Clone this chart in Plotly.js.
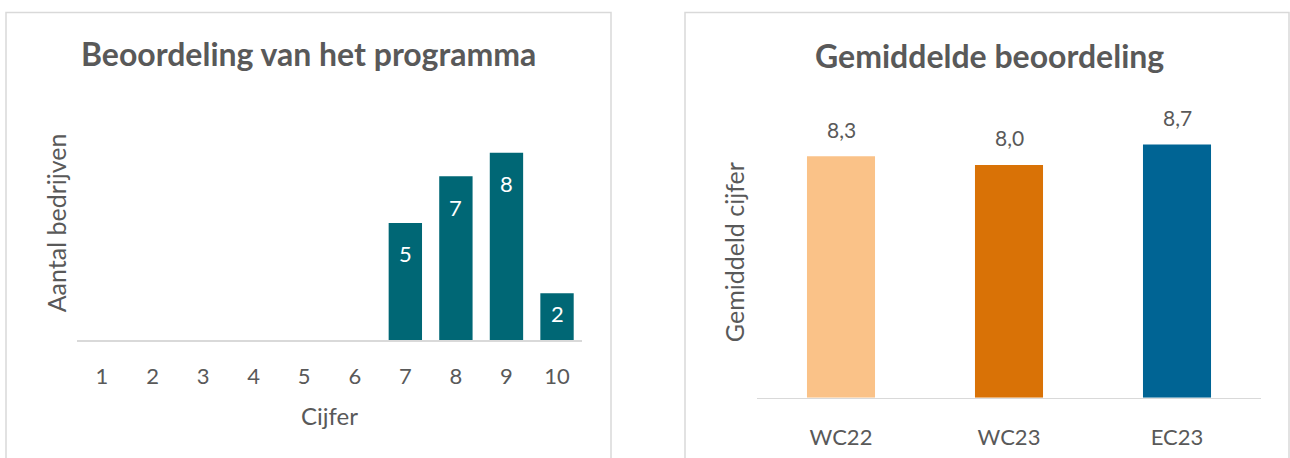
<!DOCTYPE html>
<html>
<head>
<meta charset="utf-8">
<script src="https://cdn.plot.ly/plotly-3.0.1.min.js"></script>
<style>
html,body{margin:0;padding:0;background:#fff;}
#chart{width:1290px;height:458px;}
</style>
</head>
<body>
<div id="chart"></div>
<script>
// ---- data ----
const gradeCategories = [1, 2, 3, 4, 5, 6, 7, 8, 9, 10];
const gradeCounts = [0, 0, 0, 0, 0, 0, 5, 7, 8, 2];
const edition = ["WC22", "WC23", "EC23"];
const averageScore = [8.3, 8.0, 8.7];
const averageLabels = ["8,3", "8,0", "8,7"];
const editionColors = ["#FAC288", "#D97206", "#006494"];
const leftTitle = "Beoordeling van het programma";
const rightTitle = "Gemiddelde beoordeling";
const leftYTitle = "Aantal bedrijven";
const leftXTitle = "Cijfer";
const rightYTitle = "Gemiddeld cijfer";

const W = 1290, H = 458;
const FONT = "Lato, 'Open Sans', sans-serif";
const TXT = "#595959";
const GRID = "#D9D9D9";
const px = v => v / W;
const py = v => (H - v) / H;

// geometry
const L = {x0: 76.7, x1: 582.3, base: 340, top: 105.9, ymax: 10};
const R = {x0: 757, x1: 1261, base: 397.7, top: 106.7, ymax: 10};
const leftUnit = (L.base - L.top) / L.ymax;

const traces = [
  {
    type: "bar", x: gradeCategories, y: gradeCounts, xaxis: "x", yaxis: "y",
    marker: {color: "#006775"}, width: 0.66, hoverinfo: "skip"
  },
  {
    type: "bar", x: edition, y: averageScore, xaxis: "x2", yaxis: "y2",
    marker: {color: editionColors}, width: 0.405, hoverinfo: "skip"
  }
];

const annotations = [];
// chart titles
annotations.push({xref: "paper", yref: "paper", x: px(308), y: py(53), xanchor: "center", yanchor: "middle",
  text: "<b>" + leftTitle + "</b>", showarrow: false, font: {family: FONT, size: 32, color: TXT}});
annotations.push({xref: "paper", yref: "paper", x: px(989), y: py(55), xanchor: "center", yanchor: "middle",
  text: "<b>" + rightTitle + "</b>", showarrow: false, font: {family: FONT, size: 32, color: TXT}});
// left data labels inside bars
gradeCounts.forEach((v, i) => {
  if (v > 0) {
    annotations.push({xref: "x", yref: "y", x: gradeCategories[i], y: v, yanchor: "middle",
      yshift: -Math.min(31, v * leftUnit * 0.43), text: String(v), showarrow: false,
      font: {family: FONT, size: 22, color: "#FFFFFF"}});
  }
});
// right data labels above bars
averageScore.forEach((v, i) => {
  annotations.push({xref: "x2", yref: "y2", x: edition[i], y: v, yanchor: "middle",
    yshift: 27, text: averageLabels[i], showarrow: false,
    font: {family: FONT, size: 21, color: TXT}});
});

const shapes = [
  {type: "rect", xref: "paper", yref: "paper", x0: px(6), x1: px(611), y0: py(470), y1: py(12.5),
    line: {color: GRID, width: 1.5}, fillcolor: "rgba(0,0,0,0)"},
  {type: "rect", xref: "paper", yref: "paper", x0: px(685), x1: px(1289), y0: py(470), y1: py(12.5),
    line: {color: GRID, width: 1.5}, fillcolor: "rgba(0,0,0,0)"}
];

const layout = {
  width: W, height: H,
  margin: {l: 0, r: 0, t: 0, b: 0},
  paper_bgcolor: "#FFFFFF", plot_bgcolor: "rgba(0,0,0,0)",
  showlegend: false,
  font: {family: FONT, color: TXT, size: 20},
  xaxis: {
    domain: [px(L.x0), px(L.x1)], range: [0.5, 10.5], tickmode: "array", tickvals: gradeCategories,
    showgrid: false, zeroline: false, showline: true, linecolor: GRID, linewidth: 1.5,
    ticks: "", ticklabelstandoff: 16, tickfont: {family: FONT, size: 22, color: TXT},
    title: {text: leftXTitle, standoff: 20, font: {family: FONT, size: 24, color: TXT}},
    fixedrange: true
  },
  yaxis: {
    domain: [py(L.base), py(L.top)], range: [0, L.ymax], showgrid: false, zeroline: false,
    showline: false, showticklabels: false, ticks: "",
    title: {text: leftYTitle, standoff: 1, font: {family: FONT, size: 25, color: TXT}},
    fixedrange: true
  },
  xaxis2: {
    domain: [px(R.x0), px(R.x1)], range: [-0.5, 2.5], anchor: "y2", type: "category",
    showgrid: false, zeroline: false, showline: true, linecolor: GRID, linewidth: 1.5,
    ticks: "", ticklabelstandoff: 19, tickfont: {family: FONT, size: 22, color: TXT},
    fixedrange: true
  },
  yaxis2: {
    domain: [py(R.base), py(R.top)], range: [0, R.ymax], anchor: "x2", showgrid: false, zeroline: false,
    showline: false, showticklabels: false, ticks: "",
    title: {text: rightYTitle, standoff: 4, font: {family: FONT, size: 25, color: TXT}},
    fixedrange: true
  },
  annotations: annotations,
  shapes: shapes
};

Plotly.newPlot("chart", traces, layout, {staticPlot: true, displayModeBar: false});
</script>
</body>
</html>
